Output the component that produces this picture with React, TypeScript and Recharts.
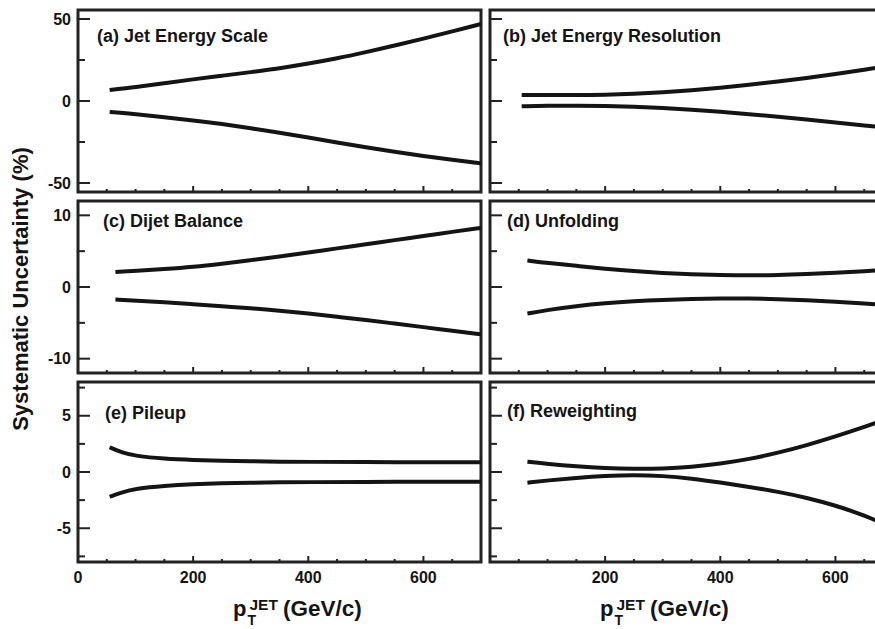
import { LineChart, Line, XAxis, YAxis, ReferenceArea } from 'recharts'

const FONT = '"Liberation Sans", Arial, Helvetica, sans-serif'
const INK = '#141414'
const FRAME = '#222'

// x axis (GeV/c)
const X_MAJOR = [0, 200, 400, 600]
const X_MINOR = [50, 100, 150, 250, 300, 350, 450, 500, 550, 650]

// y axes per row
const ROW1_MAJOR = [-50, 0, 50]
const ROW1_MINOR = [-25, 25]
const ROW2_MAJOR = [-10, 0, 10]
const ROW2_MINOR = [-5, 5]
const ROW3_MAJOR = [-5, 0, 5]
const ROW3_MINOR = [-7.5, -2.5, 2.5, 7.5]

// (a) Jet Energy Scale
const ptA = [55, 100, 150, 200, 250, 300, 350, 400, 450, 500, 550, 600, 650, 700]
const upA = [6.7, 8.4, 10.9, 13.2, 15.4, 17.6, 19.9, 22.8, 26.0, 29.8, 33.8, 38.0, 42.4, 47.0]
const loA = [-6.7, -8.0, -9.9, -11.8, -14.0, -16.6, -19.4, -22.3, -25.3, -28.2, -31.0, -33.6, -35.9, -38.0]

// (b) Jet Energy Resolution
const ptB = [55, 100, 150, 200, 250, 300, 350, 400, 450, 500, 550, 600, 650, 700]
const upB = [3.7, 3.6, 3.6, 3.8, 4.4, 5.3, 6.5, 8.1, 9.9, 11.9, 14.0, 16.4, 19.0, 21.8]
const loB = [-3.2, -2.9, -2.8, -3.0, -3.5, -4.3, -5.3, -6.5, -8.0, -9.6, -11.3, -13.1, -14.9, -16.7]

// (c) Dijet Balance
const ptC = [65, 100, 150, 200, 250, 300, 350, 400, 450, 500, 550, 600, 650, 700]
const upC = [2.1, 2.25, 2.5, 2.8, 3.25, 3.75, 4.25, 4.8, 5.4, 5.95, 6.55, 7.1, 7.7, 8.25]
const loC = [-1.75, -1.9, -2.1, -2.4, -2.7, -2.95, -3.3, -3.7, -4.15, -4.6, -5.1, -5.6, -6.1, -6.6]

// (d) Unfolding
const ptD = [65, 100, 150, 200, 250, 300, 350, 400, 450, 500, 550, 600, 650, 700]
const upD = [3.7, 3.35, 2.95, 2.55, 2.2, 1.95, 1.78, 1.66, 1.62, 1.66, 1.8, 1.98, 2.2, 2.45]
const loD = [-3.7, -3.2, -2.65, -2.25, -1.98, -1.8, -1.68, -1.6, -1.6, -1.68, -1.85, -2.05, -2.3, -2.55]

// (e) Pileup
const ptE = [55, 75, 100, 150, 200, 250, 300, 350, 400, 500, 600, 700]
const upE = [2.2, 1.75, 1.42, 1.17, 1.06, 0.99, 0.95, 0.92, 0.9, 0.88, 0.87, 0.86]
const loE = [-2.2, -1.82, -1.48, -1.22, -1.08, -1.0, -0.95, -0.92, -0.9, -0.88, -0.87, -0.86]

// (f) Reweighting
const ptF = [65, 100, 150, 200, 250, 300, 350, 400, 450, 500, 550, 600, 650, 700]
const upF = [0.92, 0.72, 0.5, 0.34, 0.27, 0.3, 0.45, 0.74, 1.14, 1.7, 2.38, 3.15, 4.0, 4.9]
const loF = [-0.95, -0.75, -0.52, -0.34, -0.26, -0.34, -0.58, -0.93, -1.32, -1.75, -2.28, -2.97, -3.85, -4.95]

const Y_LEFT = 78 // width reserved for y tick labels
const PLOT_W = 403
const PAD = 6

function Panel({ left, top, height, domain, yMajor, yMinor, yLabels, xLabels, pt, up, lo, title, titleY }) {
  const data = pt.map((p, i) => ({ pt: p, up: up[i], lo: lo[i] }))

  const xTick = ({ x, y, payload }) => {
    const major = X_MAJOR.includes(payload.value)
    const showText = major && xLabels.includes(payload.value)
    return (
      <g>
        <line x1={x} x2={x} y1={y} y2={y - (major ? 6 : 3)} stroke={FRAME} strokeWidth={2} />
        {showText && (
          <text x={x} y={y + 20.5} textAnchor="middle" fontSize={16} fontWeight="bold" fill={INK} fontFamily={FONT}>
            {payload.value}
          </text>
        )}
      </g>
    )
  }

  const yTick = ({ x, y, payload }) => {
    const major = yMajor.includes(payload.value)
    return (
      <g>
        <line x1={x} x2={x + (major ? 12 : 7)} y1={y} y2={y} stroke={FRAME} strokeWidth={2} />
        {major && yLabels && (
          <text x={x - 7} y={y + 5.6} textAnchor="end" fontSize={16} fontWeight="bold" fill={INK} fontFamily={FONT}>
            {payload.value}
          </text>
        )}
      </g>
    )
  }

  return (
    <div style={{ position: 'absolute', left: left - Y_LEFT, top: top - PAD }}>
      <LineChart
        width={Y_LEFT + PLOT_W + PAD}
        height={PAD + height + 30}
        data={data}
        margin={{ top: PAD, right: PAD, bottom: 0, left: 0 }}
      >
        <XAxis
          type="number"
          dataKey="pt"
          domain={[0, 700]}
          ticks={[...X_MAJOR, ...X_MINOR]}
          interval={0}
          tickSize={0}
          tickMargin={0}
          tickLine={false}
          axisLine={false}
          height={30}
          tick={xTick}
          allowDataOverflow
        />
        <YAxis
          type="number"
          domain={domain}
          ticks={[...yMajor, ...yMinor]}
          interval={0}
          tickSize={0}
          tickMargin={0}
          tickLine={false}
          axisLine={false}
          width={Y_LEFT}
          tick={yTick}
          allowDataOverflow
        />
        <ReferenceArea
          x1={0}
          x2={700}
          y1={domain[0]}
          y2={domain[1]}
          fill="none"
          stroke={FRAME}
          strokeWidth={3}
          ifOverflow="visible"
        />
        <Line type="basis" dataKey="up" stroke={INK} strokeWidth={4} dot={false} isAnimationActive={false} />
        <Line type="basis" dataKey="lo" stroke={INK} strokeWidth={4} dot={false} isAnimationActive={false} />
      </LineChart>
      <div
        style={{
          position: 'absolute',
          left: Y_LEFT + title.dx,
          top: PAD + titleY - 16,
          fontFamily: FONT,
          fontWeight: 'bold',
          fontSize: 18,
          lineHeight: '20px',
          color: INK,
          whiteSpace: 'nowrap',
        }}
      >
        {title.text}
      </div>
    </div>
  )
}

function XTitle({ x }) {
  return (
    <text y={615.5} fontFamily={FONT} fontWeight="bold" fill={INK}>
      <tspan x={x} fontSize={22}>p</tspan>
      <tspan x={x + 14.5} y={625} fontSize={14}>T</tspan>
      <tspan x={x + 16.5} y={609.5} fontSize={15.5}>JET</tspan>
      <tspan x={x + 50} y={615.5} fontSize={22.5}>(GeV/c)</tspan>
    </text>
  )
}

export default function App() {
  const L = 78
  const R = 490
  const rows = [
    { top: 10, height: 182, domain: [-55.5, 55.5], yMajor: ROW1_MAJOR, yMinor: ROW1_MINOR },
    { top: 201, height: 172, domain: [-12, 12], yMajor: ROW2_MAJOR, yMinor: ROW2_MINOR },
    { top: 382, height: 180, domain: [-8, 8], yMajor: ROW3_MAJOR, yMinor: ROW3_MINOR },
  ]
  return (
    <div
      style={{
        position: 'fixed',
        left: 0,
        top: 0,
        width: 875,
        height: 629,
        overflow: 'hidden',
        background: '#fff',
      }}
    >
      <Panel left={L} {...rows[0]} yLabels xLabels={[]} pt={ptA} up={upA} lo={loA}
        title={{ text: '(a) Jet Energy Scale', dx: 19 }} titleY={32} />
      <Panel left={R} {...rows[0]} yLabels={false} xLabels={[]} pt={ptB} up={upB} lo={loB}
        title={{ text: '(b) Jet Energy Resolution', dx: 13 }} titleY={32} />
      <Panel left={L} {...rows[1]} yLabels xLabels={[]} pt={ptC} up={upC} lo={loC}
        title={{ text: '(c) Dijet Balance', dx: 25 }} titleY={26} />
      <Panel left={R} {...rows[1]} yLabels={false} xLabels={[]} pt={ptD} up={upD} lo={loD}
        title={{ text: '(d) Unfolding', dx: 17 }} titleY={26} />
      <Panel left={L} {...rows[2]} yLabels xLabels={[0, 200, 400, 600]} pt={ptE} up={upE} lo={loE}
        title={{ text: '(e) Pileup', dx: 27 }} titleY={37} />
      <Panel left={R} {...rows[2]} yLabels={false} xLabels={[200, 400, 600]} pt={ptF} up={upF} lo={loF}
        title={{ text: '(f) Reweighting', dx: 17 }} titleY={35} />
      <svg width={875} height={629} style={{ position: 'absolute', left: 0, top: 0, pointerEvents: 'none' }}>
        <text
          x={28}
          y={289}
          transform="rotate(-90 28 289)"
          textAnchor="middle"
          fontFamily={FONT}
          fontWeight="bold"
          fontSize={22}
          fill={INK}
        >
          Systematic Uncertainty (%)
        </text>
        <XTitle x={233} />
        <XTitle x={600} />
      </svg>
    </div>
  )
}
